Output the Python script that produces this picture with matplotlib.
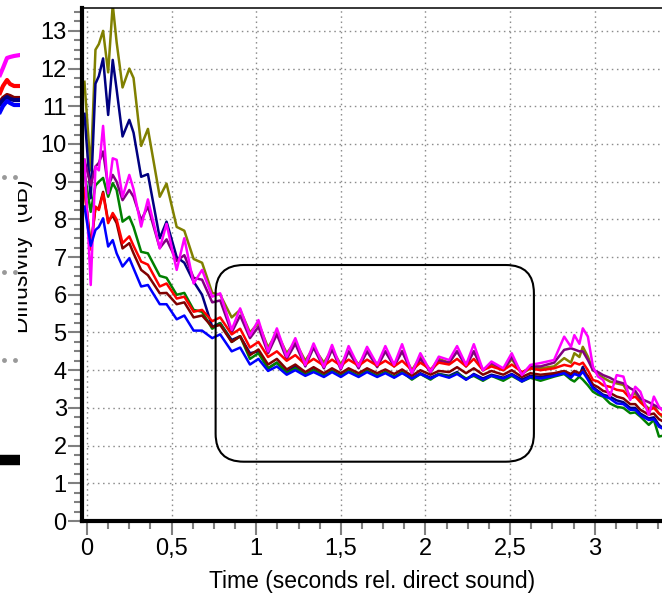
import numpy as np
import matplotlib
matplotlib.use("Agg")
import matplotlib.pyplot as plt
from matplotlib.patches import FancyBboxPatch
from matplotlib.ticker import MultipleLocator, FuncFormatter

plt.rcParams['font.family'] = ['Liberation Sans', 'DejaVu Sans']

# time axis (s rel. direct sound): early decay, periodic part (trough/peak pairs), tail
t = [-0.015, 0.022, 0.05, 0.07, 0.095, 0.125, 0.152, 0.175, 0.21, 0.25, 0.275, 0.32, 0.36, 0.43, 0.47,
     0.53, 0.575, 0.63, 0.68,
     0.74, 0.787, 0.855, 0.905, 0.963, 1.013, 1.07, 1.122, 1.18, 1.231, 1.29, 1.339, 1.40, 1.448,
     1.50, 1.546, 1.605, 1.655, 1.715, 1.763, 1.815, 1.862, 1.92, 1.97, 2.03, 2.079, 2.14, 2.187,
     2.24, 2.286, 2.34, 2.39, 2.46, 2.51, 2.57, 2.62,
     2.68, 2.76, 2.82, 2.86, 2.88, 2.91, 2.93, 2.96, 2.99, 3.02, 3.05, 3.09, 3.13, 3.17, 3.21,
     3.24, 3.27, 3.32, 3.35, 3.38, 3.42]

olive = [11.65, 9.3, 12.5, 12.65, 13.0, 11.9, 13.7, 12.7, 11.5, 12.0, 11.75, 9.95, 10.4, 8.6, 8.95,
         7.8, 7.7, 6.95, 6.85,
         6.05, 6.0, 5.4, 5.6, 5.0, 5.25, 4.6, 5.0, 4.45, 4.75, 4.25, 4.6, 4.2, 4.55,
         4.15, 4.5, 4.15, 4.5, 4.15, 4.5, 4.15, 4.5, 4.0, 4.35, 4.0, 4.3, 4.2, 4.5,
         4.15, 4.5, 4.0, 4.15, 4.0, 4.3, 3.9, 4.05,
         4.05, 4.1, 4.32, 4.2, 4.45, 4.35, 4.62, 4.36, 4.0, 3.9, 3.8, 3.7, 3.65, 3.61, 3.3,
         3.4, 3.2, 2.98, 3.05, 2.85, 2.68]

navy = [10.8, 8.56, 11.6, 11.8, 12.27, 10.77, 12.23, 11.45, 10.2, 10.64, 10.3, 9.13, 9.2, 7.5, 7.94,
        7.0, 6.85, 6.35, 6.0,
        5.15, 5.25, 4.8, 4.9, 4.45, 4.5, 4.05, 4.2, 3.95, 4.1, 3.88, 4.02, 3.85, 3.98,
        3.85, 3.98, 3.85, 3.98, 3.85, 3.95, 3.82, 3.95, 3.78, 3.92, 3.8, 3.9, 3.85, 3.95,
        3.75, 3.9, 3.78, 3.88, 3.8, 3.9, 3.75, 3.85,
        3.82, 3.88, 3.95, 3.85, 3.92, 3.85, 4.09, 3.8, 3.55, 3.45, 3.35, 3.3, 3.2, 3.15, 3.0,
        3.0, 2.85, 2.72, 2.75, 2.55, 2.4]

purple = [9.58, 8.9, 9.4, 9.5, 9.8, 8.87, 9.18, 9.0, 8.51, 8.78, 8.6, 7.98, 8.34, 7.24, 7.47,
          6.9, 7.05, 6.45, 6.4,
          5.8, 5.85, 5.0, 5.45, 4.85, 5.15, 4.45, 4.95, 4.3, 4.7, 4.1, 4.6, 4.05, 4.55,
          4.02, 4.5, 4.05, 4.5, 4.08, 4.5, 4.1, 4.5, 3.92, 4.3, 3.95, 4.25, 4.2, 4.5,
          4.1, 4.5, 4.0, 4.2, 4.02, 4.35, 3.9, 4.1,
          4.1, 4.2, 4.54, 4.58, 4.55, 4.5, 4.5, 4.27, 4.0, 3.95, 3.87, 3.8, 3.7, 3.65, 3.52,
          3.45, 3.25, 3.15, 3.08, 3.0, 2.94]

green = [9.23, 8.2, 8.9, 9.0, 9.1, 8.6, 8.96, 8.78, 7.94, 8.07, 7.8, 7.14, 7.1, 6.5, 6.45,
         6.0, 6.05, 5.6, 5.55,
         5.1, 5.25, 4.75, 4.9, 4.3, 4.45, 4.05, 4.2, 3.92, 4.05, 3.88, 4.0, 3.85, 3.98,
         3.85, 3.98, 3.85, 3.98, 3.85, 3.95, 3.82, 3.95, 3.75, 3.9, 3.75, 3.9, 3.82, 3.92,
         3.78, 3.85, 3.72, 3.85, 3.72, 3.85, 3.7, 3.8,
         3.72, 3.83, 3.9, 3.75, 3.7, 3.83, 3.75, 3.6, 3.43, 3.35, 3.3, 3.12, 3.03, 3.0, 2.86,
         2.88, 2.77, 2.55, 2.68, 2.24, 2.28]

maroon = [8.83, 7.3, 8.3, 8.3, 8.73, 7.95, 8.1, 7.9, 7.23, 7.37, 7.1, 6.66, 6.52, 6.04, 6.05,
          5.75, 5.8, 5.4, 5.45,
          5.15, 5.2, 4.75, 4.9, 4.4, 4.55, 4.15, 4.3, 4.02, 4.15, 3.95, 4.08, 3.92, 4.05,
          3.92, 4.05, 3.92, 4.05, 3.92, 4.02, 3.9, 4.02, 3.85, 4.0, 3.88, 3.98, 3.95, 4.08,
          3.92, 4.05, 3.88, 3.98, 3.88, 4.0, 3.82, 3.92,
          3.88, 3.92, 3.98, 3.9, 3.98, 3.92, 4.0, 3.85, 3.62, 3.55, 3.45, 3.4, 3.3, 3.25, 3.1,
          3.1, 2.95, 2.82, 2.85, 2.7, 2.6]

red = [8.83, 7.2, 8.34, 8.25, 8.69, 7.9, 8.17, 8.0, 7.37, 7.55, 7.3, 6.88, 6.8, 6.22, 6.3,
       5.9, 5.95, 5.55, 5.6,
       5.3, 5.4, 4.95, 5.1, 4.6, 4.75, 4.35, 4.5, 4.25, 4.4, 4.15, 4.3, 4.12, 4.28,
       4.12, 4.28, 4.12, 4.28, 4.12, 4.25, 4.1, 4.25, 4.0, 4.2, 4.02, 4.2, 4.15, 4.3,
       4.1, 4.3, 4.0, 4.1, 4.0, 4.15, 3.95, 4.05,
       4.0, 4.05, 4.14, 4.1, 4.2, 4.15, 4.2, 4.0, 3.74, 3.7, 3.6, 3.56, 3.48, 3.45, 3.25,
       3.3, 3.15, 2.94, 3.0, 2.85, 2.77]

magenta = [9.58, 6.26, 9.4, 9.3, 10.48, 8.69, 9.62, 9.58, 8.6, 9.18, 8.8, 7.81, 8.53, 7.23, 7.88,
           6.66, 7.5, 6.3, 6.66,
           5.95, 6.04, 5.07, 5.64, 4.92, 5.33, 4.5, 5.11, 4.36, 4.85, 4.14, 4.71, 4.09, 4.67,
           4.05, 4.64, 4.1, 4.62, 4.14, 4.64, 4.14, 4.69, 3.92, 4.45, 3.96, 4.36, 4.27, 4.64,
           4.14, 4.69, 4.0, 4.23, 4.05, 4.45, 3.87, 4.14,
           4.19, 4.27, 4.89, 4.62, 4.93, 4.7, 5.11, 4.89, 4.09, 3.83, 3.74, 3.3, 3.87, 3.83, 3.21,
           3.56, 3.43, 2.81, 3.3, 3.03, 2.85]

blue = [8.34, 7.3, 7.72, 7.8, 8.03, 7.28, 7.45, 7.1, 6.75, 6.97, 6.7, 6.22, 6.26, 5.75, 5.75,
        5.35, 5.45, 5.05, 5.05,
        4.85, 4.95, 4.5, 4.6, 4.15, 4.3, 3.98, 4.1, 3.88, 4.0, 3.85, 3.95, 3.82, 3.95,
        3.82, 3.95, 3.82, 3.95, 3.82, 3.92, 3.8, 3.92, 3.78, 3.9, 3.78, 3.88, 3.8, 3.9,
        3.75, 3.88, 3.75, 3.85, 3.78, 3.88, 3.7, 3.82,
        3.78, 3.85, 3.92, 3.8, 3.9, 3.85, 3.96, 3.75, 3.52, 3.42, 3.32, 3.25, 3.12, 3.1, 2.95,
        2.95, 2.8, 2.68, 2.7, 2.5, 2.41]

series = [(olive, '#808000'), (navy, '#000080'), (purple, '#800080'), (green, '#008000'),
          (maroon, '#800000'), (red, '#ff0000'), (magenta, '#ff00ff'), (blue, '#0000ff')]

# highlighted region (rounded box), in data units
box_x0, box_x1 = 0.76, 2.641
box_y0, box_y1 = 1.573, 6.79

# pieces of the neighbouring panel that show at the left border (pixel units)
rem_x = [0, 3, 7, 10, 14, 20]
rem_lines = [([75, 68, 58, 57, 56, 55], '#ff00ff'),
             ([93, 86, 80, 84, 86, 86], '#ff0000'),
             ([102, 98, 95, 96, 98, 98], '#800000'),
             ([104, 100, 97, 99, 100, 100], '#000080'),
             ([112, 106, 101, 103, 105, 105], '#0000ff')]
rem_dot_x = [4, 15]
rem_dot_y = [177, 272, 360]

W, H = 662, 593
fig = plt.figure(figsize=(W / 100, H / 100), dpi=100)
ax = fig.add_axes([82 / W, (H - 521) / H, (W - 82) / W, (521 - 8) / H])

for vals, col in series:
    ax.plot(t, vals, color=col, lw=1.8, zorder=3, solid_joinstyle='round')

box = FancyBboxPatch((box_x0, box_y0), box_x1 - box_x0, box_y1 - box_y0,
                     boxstyle="round,pad=0,rounding_size=0.166", mutation_aspect=4.48,
                     fc='none', ec='black', lw=1.5, zorder=5)
ax.add_patch(box)

ax.set_xlim(-0.0296, 3.398)
ax.set_ylim(0, 13.607)

ax.xaxis.set_major_locator(MultipleLocator(0.5))
ax.xaxis.set_minor_locator(MultipleLocator(0.125))
ax.yaxis.set_major_locator(MultipleLocator(1))
ax.yaxis.set_minor_locator(MultipleLocator(0.25))
ax.xaxis.set_major_formatter(FuncFormatter(lambda v, p: ('%g' % v).replace('.', ',')))

ax.grid(True, which='major', color='#8c8c8c', lw=1.0, linestyle=(0, (1.1, 2.6)))
ax.set_axisbelow(True)

ax.tick_params(which='major', length=10, width=1.5, color='#808080', labelsize=17, pad=1)
ax.tick_params(which='minor', length=5.5, width=1.5, color='#808080')
ax.tick_params(axis='x', which='major', pad=2.5)

ax.spines['right'].set_visible(False)
ax.spines['left'].set_linewidth(3)
ax.spines['bottom'].set_linewidth(3)
ax.spines['top'].set_linewidth(1.1)
for s in ax.spines.values():
    s.set_zorder(6)

ax.set_xlabel('Time (seconds rel. direct sound)', fontsize=16.5, labelpad=7)

# left strip with the neighbouring panel's leftovers
ax2 = fig.add_axes([0, 0, 20 / W, 1])
ax2.set_xlim(0, 20)
ax2.set_ylim(H, 0)
ax2.axis('off')
for vals, col in rem_lines:
    ax2.plot(rem_x, vals, color=col, lw=3)
for yy in rem_dot_y:
    ax2.plot(rem_dot_x, [yy, yy], ls='none', marker='o', ms=3.5, color='#999999', mec='none')
ax2.plot([0, 20], [460, 460], color='black', lw=7.5, solid_capstyle='butt')

# y label, partly hidden behind the neighbouring panel
ax3 = fig.add_axes([18 / W, (H - 345) / H, 40 / W, 200 / H])
ax3.axis('off')
ax3.text(15 / 40, (345 - 256.5) / 200, 'Diffusivity  (dB)', rotation=90, ha='right', va='center',
         fontsize=16.5, transform=ax3.transAxes, clip_on=True)

plt.savefig('out.png', dpi=100)
